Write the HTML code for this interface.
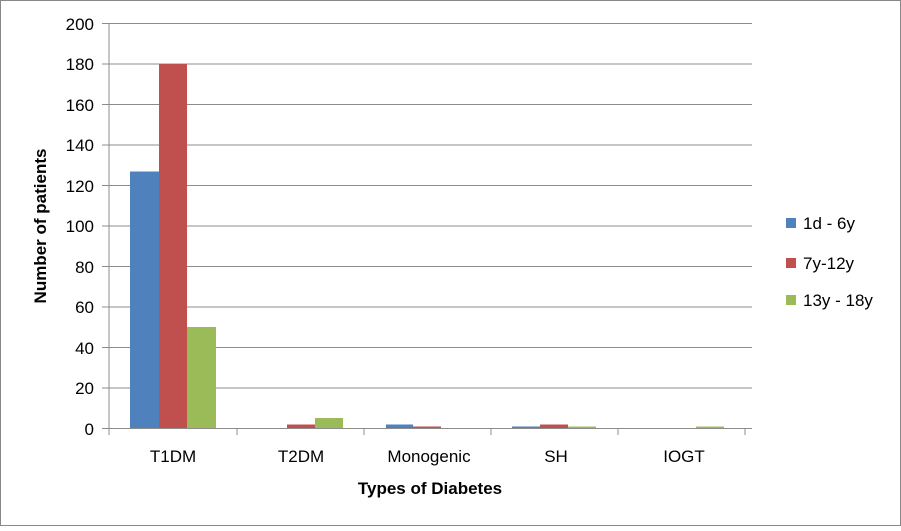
<!DOCTYPE html>
<html><head><style>body{margin:0;background:#fff}</style></head><body>
<svg width="901" height="526" xmlns="http://www.w3.org/2000/svg" font-family="Liberation Sans, sans-serif">
<rect x="0.5" y="0.5" width="900" height="525" fill="#fff" stroke="#888"/>
<g stroke="#8c8c8c" stroke-width="1">
<line x1="109" y1="23.5" x2="752" y2="23.5"/><line x1="109" y1="64" x2="752" y2="64"/>
<line x1="109" y1="104.5" x2="752" y2="104.5"/><line x1="109" y1="145" x2="752" y2="145"/>
<line x1="109" y1="185.5" x2="752" y2="185.5"/><line x1="109" y1="226" x2="752" y2="226"/>
<line x1="109" y1="266.5" x2="752" y2="266.5"/><line x1="109" y1="307" x2="752" y2="307"/>
<line x1="109" y1="347.5" x2="752" y2="347.5"/><line x1="109" y1="388" x2="752" y2="388"/>
<line x1="102" y1="23.5" x2="109" y2="23.5"/><line x1="102" y1="64" x2="109" y2="64"/><line x1="102" y1="104.5" x2="109" y2="104.5"/><line x1="102" y1="145" x2="109" y2="145"/><line x1="102" y1="185.5" x2="109" y2="185.5"/><line x1="102" y1="226" x2="109" y2="226"/><line x1="102" y1="266.5" x2="109" y2="266.5"/><line x1="102" y1="307" x2="109" y2="307"/><line x1="102" y1="347.5" x2="109" y2="347.5"/><line x1="102" y1="388" x2="109" y2="388"/><line x1="102" y1="428.5" x2="109" y2="428.5"/>
</g>
<g fill="#4f81bd"><rect x="130" y="171.5" width="29" height="257"/><rect x="386" y="424.5" width="27" height="4"/><rect x="512" y="426.5" width="28" height="2"/></g>
<g fill="#c0504d"><rect x="159" y="64" width="28" height="364.5"/><rect x="287" y="424.5" width="28" height="4"/><rect x="413" y="426.5" width="28" height="2"/><rect x="540" y="424.5" width="28" height="4"/></g>
<g fill="#9bbb59"><rect x="187" y="327" width="29" height="101.5"/><rect x="315" y="418" width="28" height="10.5"/><rect x="568" y="426.5" width="28" height="2"/><rect x="696" y="426.5" width="28" height="2"/></g>
<g stroke="#8c8c8c"><line x1="109" y1="23" x2="109" y2="429"/><line x1="109" y1="428.5" x2="752" y2="428.5"/>
<line x1="109" y1="428" x2="109" y2="435"/><line x1="237" y1="428" x2="237" y2="435"/><line x1="364" y1="428" x2="364" y2="435"/><line x1="491" y1="428" x2="491" y2="435"/><line x1="618" y1="428" x2="618" y2="435"/><line x1="745" y1="428" x2="745" y2="435"/></g>
<g font-size="17" fill="#000" text-anchor="end">
<text x="94" y="30">200</text><text x="94" y="70">180</text><text x="94" y="111">160</text><text x="94" y="151">140</text><text x="94" y="192">120</text><text x="94" y="232">100</text><text x="94" y="273">80</text><text x="94" y="313">60</text><text x="94" y="354">40</text><text x="94" y="394">20</text><text x="94" y="435">0</text>
</g>
<g font-size="17" text-anchor="middle"><text x="173" y="462">T1DM</text><text x="301" y="462">T2DM</text><text x="429" y="462">Monogenic</text><text x="556" y="462">SH</text><text x="684" y="462">IOGT</text></g>
<text x="430" y="494" font-size="17" font-weight="bold" text-anchor="middle">Types of Diabetes</text>
<text transform="translate(46,226) rotate(-90)" font-size="17" font-weight="bold" text-anchor="middle">Number of patients</text>
<rect x="786" y="218" width="10" height="10" fill="#4f81bd"/><text x="803" y="229" font-size="17">1d - 6y</text>
<rect x="786" y="258" width="10" height="10" fill="#c0504d"/><text x="803" y="269" font-size="17">7y-12y</text>
<rect x="786" y="295" width="10" height="10" fill="#9bbb59"/><text x="803" y="306" font-size="17">13y - 18y</text>
</svg>
</body></html>
